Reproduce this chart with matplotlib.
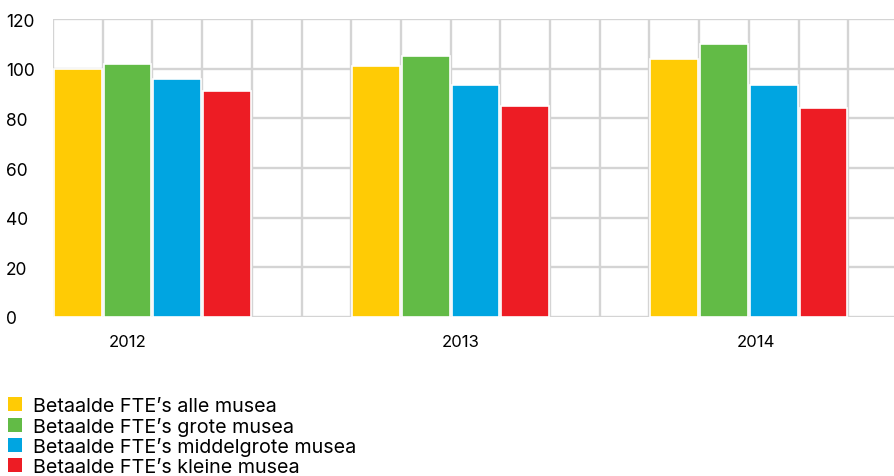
import numpy as np
import matplotlib.pyplot as plt
from matplotlib.patches import Patch

plt.rcParams['font.family'] = ['Inter', 'DejaVu Sans']

# data
years = ['2012', '2013', '2014']
series_names = ["Betaalde FTE’s alle musea", "Betaalde FTE’s grote musea",
                "Betaalde FTE’s middelgrote musea", "Betaalde FTE’s kleine musea"]
alle = [100, 101, 104]
grote = [102, 105, 110]
middelgrote = [96, 93.5, 93.5]
kleine = [91, 85, 84]
colors = ['#FFCB05', '#62BB46', '#00A5E1', '#ED1C24']

values = [alle, grote, middelgrote, kleine]

W, H = 894, 477
fig = plt.figure(figsize=(W / 100, H / 100), dpi=100)
ax = fig.add_axes([53 / W, (H - 318) / H, 845 / W, (318 - 20) / H])

# each year occupies 4 slots followed by 2 empty slots
group_start = [0, 6, 12]
for s in range(4):
    xs = np.array(group_start) + s + 0.5
    ax.bar(xs, values[s], width=0.96, color=colors[s], edgecolor='white',
           linewidth=1.2, zorder=3)

ax.set_xlim(0, 17)
ax.set_ylim(0, 120)
ax.set_yticks(range(0, 121, 20))
ax.set_xticks(range(0, 18), minor=True)
ax.set_xticks([1.5, 8.2, 14.15])
ax.set_xticklabels(years, fontsize=12)

ax.grid(which='minor', axis='x', color='#d4d4d4', lw=1.7, zorder=0)
ax.grid(which='major', axis='y', color='#d4d4d4', lw=1.7, zorder=0)
for sp in ax.spines.values():
    sp.set_visible(False)
ax.tick_params(which='both', length=0)
ax.tick_params(axis='x', pad=12)
ax.tick_params(axis='y', pad=34, labelsize=12.5)
for lab in ax.get_yticklabels():
    lab.set_horizontalalignment('left')

handles = [Patch(facecolor=c, edgecolor='none') for c in colors]
fig.legend(handles, series_names, loc='upper left',
           bbox_to_anchor=(8 / W, 1 - 398 / H), frameon=False,
           fontsize=14.2, handlelength=0.72, handleheight=0.72,
           handletextpad=0.55, labelspacing=0.08, borderpad=0, borderaxespad=0)

fig.savefig('out.png', dpi=100)
